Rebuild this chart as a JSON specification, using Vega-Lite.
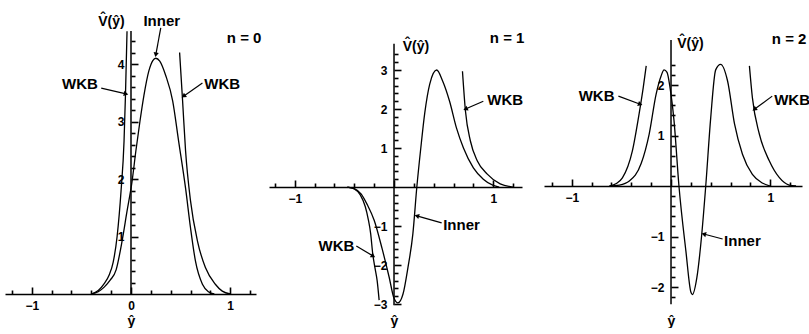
{
  "$schema": "https://vega.github.io/schema/vega-lite/v6.json",
  "background": "white",
  "padding": {"left": 5, "top": 13, "right": 0, "bottom": 0},
  "datasets": {
    "curves": [
      {"p":0,"s":"inner","x":-0.40,"y":0},{"p":0,"s":"inner","x":-0.33,"y":0.04},{"p":0,"s":"inner","x":-0.27,"y":0.12},{"p":0,"s":"inner","x":-0.21,"y":0.24},{"p":0,"s":"inner","x":-0.15,"y":0.42},{"p":0,"s":"inner","x":-0.09,"y":0.92},{"p":0,"s":"inner","x":-0.04,"y":1.44},{"p":0,"s":"inner","x":0.01,"y":1.95},{"p":0,"s":"inner","x":0.05,"y":2.5},{"p":0,"s":"inner","x":0.09,"y":3.0},{"p":0,"s":"inner","x":0.13,"y":3.45},{"p":0,"s":"inner","x":0.18,"y":3.88},{"p":0,"s":"inner","x":0.22,"y":4.06},{"p":0,"s":"inner","x":0.25,"y":4.1},{"p":0,"s":"inner","x":0.29,"y":4.05},{"p":0,"s":"inner","x":0.35,"y":3.8},{"p":0,"s":"inner","x":0.42,"y":3.36},{"p":0,"s":"inner","x":0.48,"y":2.66},{"p":0,"s":"inner","x":0.55,"y":1.84},{"p":0,"s":"inner","x":0.6,"y":1.15},{"p":0,"s":"inner","x":0.65,"y":0.57},{"p":0,"s":"inner","x":0.72,"y":0.17},{"p":0,"s":"inner","x":0.78,"y":0.04},{"p":0,"s":"inner","x":0.84,"y":0},
      {"p":0,"s":"wkbL","x":-0.40,"y":0},{"p":0,"s":"wkbL","x":-0.33,"y":0.06},{"p":0,"s":"wkbL","x":-0.27,"y":0.18},{"p":0,"s":"wkbL","x":-0.22,"y":0.33},{"p":0,"s":"wkbL","x":-0.18,"y":0.55},{"p":0,"s":"wkbL","x":-0.14,"y":1.0},{"p":0,"s":"wkbL","x":-0.1,"y":1.8},{"p":0,"s":"wkbL","x":-0.07,"y":2.66},{"p":0,"s":"wkbL","x":-0.055,"y":3.5},{"p":0,"s":"wkbL","x":-0.04,"y":4.57},
      {"p":0,"s":"wkbR","x":0.49,"y":4.2},{"p":0,"s":"wkbR","x":0.52,"y":3.36},{"p":0,"s":"wkbR","x":0.55,"y":2.49},{"p":0,"s":"wkbR","x":0.6,"y":1.62},{"p":0,"s":"wkbR","x":0.67,"y":0.92},{"p":0,"s":"wkbR","x":0.75,"y":0.46},{"p":0,"s":"wkbR","x":0.85,"y":0.17},{"p":0,"s":"wkbR","x":0.92,"y":0.05},{"p":0,"s":"wkbR","x":1.0,"y":0},
      {"p":1,"s":"inner","x":-0.47,"y":0},{"p":1,"s":"inner","x":-0.4,"y":-0.04},{"p":1,"s":"inner","x":-0.33,"y":-0.18},{"p":1,"s":"inner","x":-0.27,"y":-0.45},{"p":1,"s":"inner","x":-0.2,"y":-0.85},{"p":1,"s":"inner","x":-0.12,"y":-1.58},{"p":1,"s":"inner","x":-0.05,"y":-2.3},{"p":1,"s":"inner","x":0.0,"y":-2.85},{"p":1,"s":"inner","x":0.04,"y":-2.97},{"p":1,"s":"inner","x":0.09,"y":-2.75},{"p":1,"s":"inner","x":0.14,"y":-2.07},{"p":1,"s":"inner","x":0.19,"y":-1.2},{"p":1,"s":"inner","x":0.23,"y":0},{"p":1,"s":"inner","x":0.27,"y":1.0},{"p":1,"s":"inner","x":0.31,"y":1.9},{"p":1,"s":"inner","x":0.36,"y":2.64},{"p":1,"s":"inner","x":0.43,"y":3.0},{"p":1,"s":"inner","x":0.49,"y":2.72},{"p":1,"s":"inner","x":0.56,"y":2.2},{"p":1,"s":"inner","x":0.63,"y":1.51},{"p":1,"s":"inner","x":0.7,"y":1.0},{"p":1,"s":"inner","x":0.8,"y":0.49},{"p":1,"s":"inner","x":0.9,"y":0.2},{"p":1,"s":"inner","x":1.0,"y":0.04},{"p":1,"s":"inner","x":1.06,"y":0},
      {"p":1,"s":"wkbL","x":-0.47,"y":0},{"p":1,"s":"wkbL","x":-0.4,"y":-0.05},{"p":1,"s":"wkbL","x":-0.34,"y":-0.2},{"p":1,"s":"wkbL","x":-0.29,"y":-0.5},{"p":1,"s":"wkbL","x":-0.26,"y":-0.82},{"p":1,"s":"wkbL","x":-0.235,"y":-1.2},{"p":1,"s":"wkbL","x":-0.215,"y":-1.7},{"p":1,"s":"wkbL","x":-0.19,"y":-2.1},{"p":1,"s":"wkbL","x":-0.17,"y":-2.4},{"p":1,"s":"wkbL","x":-0.15,"y":-2.9},
      {"p":1,"s":"wkbR","x":0.69,"y":2.97},{"p":1,"s":"wkbR","x":0.72,"y":1.95},{"p":1,"s":"wkbR","x":0.77,"y":1.18},{"p":1,"s":"wkbR","x":0.84,"y":0.67},{"p":1,"s":"wkbR","x":0.94,"y":0.33},{"p":1,"s":"wkbR","x":1.07,"y":0.08},{"p":1,"s":"wkbR","x":1.2,"y":0},
      {"p":2,"s":"inner","x":-0.62,"y":0},{"p":2,"s":"inner","x":-0.52,"y":0.02},{"p":2,"s":"inner","x":-0.42,"y":0.1},{"p":2,"s":"inner","x":-0.3,"y":0.45},{"p":2,"s":"inner","x":-0.22,"y":1.03},{"p":2,"s":"inner","x":-0.15,"y":1.82},{"p":2,"s":"inner","x":-0.1,"y":2.18},{"p":2,"s":"inner","x":-0.07,"y":2.3},{"p":2,"s":"inner","x":-0.04,"y":2.25},{"p":2,"s":"inner","x":-0.01,"y":1.95},{"p":2,"s":"inner","x":0.03,"y":1.3},{"p":2,"s":"inner","x":0.08,"y":0},{"p":2,"s":"inner","x":0.15,"y":-1.29},{"p":2,"s":"inner","x":0.2,"y":-2.1},{"p":2,"s":"inner","x":0.215,"y":-2.15},{"p":2,"s":"inner","x":0.26,"y":-1.82},{"p":2,"s":"inner","x":0.31,"y":-0.95},{"p":2,"s":"inner","x":0.35,"y":0},{"p":2,"s":"inner","x":0.4,"y":1.35},{"p":2,"s":"inner","x":0.45,"y":2.3},{"p":2,"s":"inner","x":0.5,"y":2.41},{"p":2,"s":"inner","x":0.57,"y":2.08},{"p":2,"s":"inner","x":0.64,"y":1.23},{"p":2,"s":"inner","x":0.72,"y":0.63},{"p":2,"s":"inner","x":0.82,"y":0.23},{"p":2,"s":"inner","x":0.92,"y":0.06},{"p":2,"s":"inner","x":1.0,"y":0},
      {"p":2,"s":"wkbL","x":-0.62,"y":0},{"p":2,"s":"wkbL","x":-0.55,"y":0.05},{"p":2,"s":"wkbL","x":-0.49,"y":0.16},{"p":2,"s":"wkbL","x":-0.39,"y":0.69},{"p":2,"s":"wkbL","x":-0.32,"y":1.45},{"p":2,"s":"wkbL","x":-0.28,"y":1.95},{"p":2,"s":"wkbL","x":-0.25,"y":2.38},
      {"p":2,"s":"wkbR","x":0.79,"y":2.38},{"p":2,"s":"wkbR","x":0.82,"y":1.75},{"p":2,"s":"wkbR","x":0.89,"y":1.03},{"p":2,"s":"wkbR","x":0.99,"y":0.5},{"p":2,"s":"wkbR","x":1.09,"y":0.17},{"p":2,"s":"wkbR","x":1.19,"y":0.02},{"p":2,"s":"wkbR","x":1.26,"y":0}
    ],
    "yaxis": [
      {"p":0,"x":0,"y":0,"y2":4.574},
      {"p":1,"x":0,"y":-3.03,"y2":3.67},
      {"p":2,"x":0,"y":-2.34,"y2":2.89}
    ],
    "arrows": [
      {"p":0,"x":-0.3,"y":3.58,"x2":-0.05,"y2":3.48},
      {"p":0,"x":0.72,"y":3.67,"x2":0.53,"y2":3.44},
      {"p":0,"x":0.3,"y":4.63,"x2":0.25,"y2":4.16},
      {"p":1,"x":0.9,"y":2.2,"x2":0.72,"y2":2.0},
      {"p":1,"x":0.48,"y":-0.92,"x2":0.23,"y2":-0.74},
      {"p":1,"x":-0.38,"y":-1.51,"x2":-0.21,"y2":-1.77},
      {"p":2,"x":-0.53,"y":1.78,"x2":-0.31,"y2":1.62},
      {"p":2,"x":1.02,"y":1.78,"x2":0.84,"y2":1.52},
      {"p":2,"x":0.52,"y":-1.05,"x2":0.33,"y2":-0.95}
    ],
    "labels": [
      {"p":0,"t":"WKB","x":-0.515,"y":3.65},
      {"p":0,"t":"WKB","x":0.92,"y":3.65},
      {"p":0,"t":"Inner","x":0.31,"y":4.75},
      {"p":0,"t":"n = 0","x":1.14,"y":4.45},
      {"p":1,"t":"n = 1","x":1.14,"y":3.82},
      {"p":1,"t":"WKB","x":1.12,"y":2.23},
      {"p":1,"t":"Inner","x":0.68,"y":-0.97},
      {"p":1,"t":"WKB","x":-0.58,"y":-1.51},
      {"p":2,"t":"n = 2","x":1.19,"y":2.91},
      {"p":2,"t":"WKB","x":-0.75,"y":1.78},
      {"p":2,"t":"WKB","x":1.22,"y":1.7},
      {"p":2,"t":"Inner","x":0.72,"y":-1.09}
    ]
  },
  "spacing": 13,
  "bounds": "flush",
  "hconcat": [
    {
      "width": 251, "height": 263,
      "resolve": {"axis": {"x": "independent", "y": "independent"}},
      "layer": [
        {"data": {"name": "curves"}, "transform": [{"filter": "datum.p === 0"}],
         "mark": {"type": "line", "color": "black", "strokeWidth": 1.3, "interpolate": "monotone"},
         "encoding": {
           "x": {"field": "x", "type": "quantitative",
             "scale": {"domain": [-1.27, 1.26], "nice": false, "zero": false},
             "axis": {"values": [-1.2,-1,-0.8,-0.6,-0.4,-0.2,0,0.2,0.4,0.6,0.8,1,1.2], "offset": 0, "format": ".0f", "ticks": true, "zindex": 1,
               "tickSize": {"expr": "abs(datum.value % 1) < 0.001 ? -7 : -4"}, "tickColor": "#000000", "tickWidth": 1.6, "tickOpacity": 1,
               "labelExpr": "abs(datum.value % 1) < 0.001 ? datum.label : ''", "labelPadding": 13,
               "title": "ŷ", "titleX": 126, "titleY": 27}},
           "y": {"field": "y", "type": "quantitative",
             "scale": {"domain": [0, 4.574], "nice": false, "zero": false},
             "axis": {"values": [0.2,0.4,0.6,0.8,1,1.2,1.4,1.6,1.8,2,2.2,2.4,2.6,2.8,3,3.2,3.4,3.6,3.8,4,4.2,4.4], "offset": -126, "domain": false, "format": ".0f", "ticks": true, "zindex": 1,
               "tickSize": {"expr": "abs(datum.value % 1) < 0.001 ? -7 : -4"}, "tickColor": "#000000", "tickWidth": 1.6, "tickOpacity": 1,
               "labelExpr": "abs(datum.value % 1) < 0.001 ? datum.label : ''", "labelPadding": 14,
               "title": "V̂(ŷ)", "titleX": -20, "titleY": -10}},
           "detail": {"field": "s"}}},
        {"data": {"name": "yaxis"}, "transform": [{"filter": "datum.p === 0"}],
         "mark": {"type": "rule", "color": "black", "strokeWidth": 1.5},
         "encoding": {"x": {"field": "x", "type": "quantitative", "axis": null, "scale": {"domain": [-1.27, 1.26], "nice": false, "zero": false}},
                      "y": {"field": "y", "type": "quantitative", "axis": null, "scale": {"domain": [0, 4.574], "nice": false, "zero": false}},
                      "y2": {"field": "y2"}}},
        {"data": {"name": "arrows"}, "transform": [{"filter": "datum.p === 0"}],
         "mark": {"type": "rule", "color": "black", "strokeWidth": 1.2},
         "encoding": {"x": {"field": "x", "type": "quantitative", "axis": null, "scale": {"domain": [-1.27, 1.26], "nice": false, "zero": false}},
                      "y": {"field": "y", "type": "quantitative", "axis": null, "scale": {"domain": [0, 4.574], "nice": false, "zero": false}},
                      "x2": {"field": "x2"}, "y2": {"field": "y2"}}},
        {"data": {"name": "arrows"}, "transform": [{"filter": "datum.p === 0"},
           {"calculate": "atan2((datum.x2 - datum.x) * 99.2, (datum.y2 - datum.y) * 57.5) * 180 / PI", "as": "ang"}],
         "mark": {"type": "point", "shape": "triangle-up", "filled": true, "color": "black", "size": 28, "opacity": 1},
         "encoding": {"x": {"field": "x2", "type": "quantitative", "axis": null, "scale": {"domain": [-1.27, 1.26], "nice": false, "zero": false}},
                      "y": {"field": "y2", "type": "quantitative", "axis": null, "scale": {"domain": [0, 4.574], "nice": false, "zero": false}},
                      "angle": {"field": "ang", "type": "quantitative", "scale": null}}},
        {"data": {"name": "labels"}, "transform": [{"filter": "datum.p === 0"}],
         "mark": {"type": "text", "font": "Liberation Sans", "fontWeight": "bold", "fontSize": 15, "color": "black", "align": "center", "baseline": "middle"},
         "encoding": {"x": {"field": "x", "type": "quantitative", "axis": null, "scale": {"domain": [-1.27, 1.26], "nice": false, "zero": false}},
                      "y": {"field": "y", "type": "quantitative", "axis": null, "scale": {"domain": [0, 4.574], "nice": false, "zero": false}},
                      "text": {"field": "t"}}}
      ]
    },
    {
      "spacing": 22,
      "bounds": "flush",
      "hconcat": [
        {
          "width": 253, "height": 275,
          "resolve": {"axis": {"x": "independent", "y": "independent"}},
          "layer": [
            {"data": {"name": "curves"}, "transform": [{"filter": "datum.p === 1"}],
             "mark": {"type": "line", "color": "black", "strokeWidth": 1.3, "interpolate": "monotone"},
             "encoding": {
               "x": {"field": "x", "type": "quantitative",
                 "scale": {"domain": [-1.26, 1.29], "nice": false, "zero": false},
                 "axis": {"values": [-1.2,-1,-0.8,-0.6,-0.4,-0.2,0,0.2,0.4,0.6,0.8,1,1.2], "offset": -119, "format": ".0f", "ticks": true, "zindex": 1,
                   "tickSize": {"expr": "abs(datum.value % 1) < 0.001 ? -7 : -4"}, "tickColor": "#000000", "tickWidth": 1.6, "tickOpacity": 1,
                   "labelExpr": "abs(datum.value) === 1 ? datum.label : ''", "labelPadding": 13,
                   "title": "ŷ", "titleX": 125, "titleY": 134}},
               "y": {"field": "y", "type": "quantitative",
                 "scale": {"domain": [-3.05, 4.0], "nice": false, "zero": false},
                 "axis": {"values": [-3,-2.8,-2.6,-2.4,-2.2,-2,-1.8,-1.6,-1.4,-1.2,-1,-0.8,-0.6,-0.4,-0.2,0.2,0.4,0.6,0.8,1,1.2,1.4,1.6,1.8,2,2.2,2.4,2.6,2.8,3,3.2,3.4], "offset": -125, "domain": false, "format": ".0f", "ticks": true, "zindex": 1,
                   "tickSize": {"expr": "abs(datum.value % 1) < 0.001 ? -7 : -4"}, "tickColor": "#000000", "tickWidth": 1.6, "tickOpacity": 1,
                   "labelExpr": "abs(datum.value % 1) < 0.001 ? datum.label : ''", "labelPadding": 14,
                   "title": "V̂(ŷ)", "titleX": 21.5, "titleY": 15}},
               "detail": {"field": "s"}}},
            {"data": {"name": "yaxis"}, "transform": [{"filter": "datum.p === 1"}],
             "mark": {"type": "rule", "color": "black", "strokeWidth": 1.5},
             "encoding": {"x": {"field": "x", "type": "quantitative", "axis": null, "scale": {"domain": [-1.26, 1.29], "nice": false, "zero": false}},
                          "y": {"field": "y", "type": "quantitative", "axis": null, "scale": {"domain": [-3.05, 4.0], "nice": false, "zero": false}},
                          "y2": {"field": "y2"}}},
            {"data": {"name": "arrows"}, "transform": [{"filter": "datum.p === 1"}],
             "mark": {"type": "rule", "color": "black", "strokeWidth": 1.2},
             "encoding": {"x": {"field": "x", "type": "quantitative", "axis": null, "scale": {"domain": [-1.26, 1.29], "nice": false, "zero": false}},
                          "y": {"field": "y", "type": "quantitative", "axis": null, "scale": {"domain": [-3.05, 4.0], "nice": false, "zero": false}},
                          "x2": {"field": "x2"}, "y2": {"field": "y2"}}},
            {"data": {"name": "arrows"}, "transform": [{"filter": "datum.p === 1"},
               {"calculate": "atan2((datum.x2 - datum.x) * 99.2, (datum.y2 - datum.y) * 39) * 180 / PI", "as": "ang"}],
             "mark": {"type": "point", "shape": "triangle-up", "filled": true, "color": "black", "size": 28, "opacity": 1},
             "encoding": {"x": {"field": "x2", "type": "quantitative", "axis": null, "scale": {"domain": [-1.26, 1.29], "nice": false, "zero": false}},
                          "y": {"field": "y2", "type": "quantitative", "axis": null, "scale": {"domain": [-3.05, 4.0], "nice": false, "zero": false}},
                          "angle": {"field": "ang", "type": "quantitative", "scale": null}}},
            {"data": {"name": "labels"}, "transform": [{"filter": "datum.p === 1"}],
             "mark": {"type": "text", "font": "Liberation Sans", "fontWeight": "bold", "fontSize": 15, "color": "black", "align": "center", "baseline": "middle"},
             "encoding": {"x": {"field": "x", "type": "quantitative", "axis": null, "scale": {"domain": [-1.26, 1.29], "nice": false, "zero": false}},
                          "y": {"field": "y", "type": "quantitative", "axis": null, "scale": {"domain": [-3.05, 4.0], "nice": false, "zero": false}},
                          "text": {"field": "t"}}}
          ]
        },
        {
          "width": 258, "height": 275,
          "resolve": {"axis": {"x": "independent", "y": "independent"}},
          "layer": [
            {"data": {"name": "curves"}, "transform": [{"filter": "datum.p === 2"}],
             "mark": {"type": "line", "color": "black", "strokeWidth": 1.3, "interpolate": "monotone"},
             "encoding": {
               "x": {"field": "x", "type": "quantitative",
                 "scale": {"domain": [-1.28, 1.32], "nice": false, "zero": false},
                 "axis": {"values": [-1.2,-1,-0.8,-0.6,-0.4,-0.2,0,0.2,0.4,0.6,0.8,1,1.2], "offset": -120, "format": ".0f", "ticks": true, "zindex": 1,
                   "tickSize": {"expr": "abs(datum.value % 1) < 0.001 ? -7 : -4"}, "tickColor": "#000000", "tickWidth": 1.6, "tickOpacity": 1,
                   "labelExpr": "abs(datum.value) === 1 ? datum.label : ''", "labelPadding": 13,
                   "title": "ŷ", "titleX": 127, "titleY": 135}},
               "y": {"field": "y", "type": "quantitative",
                 "scale": {"domain": [-2.376, 3.07], "nice": false, "zero": false},
                 "axis": {"values": [-2.2,-2,-1.8,-1.6,-1.4,-1.2,-1,-0.8,-0.6,-0.4,-0.2,0.2,0.4,0.6,0.8,1,1.2,1.4,1.6,1.8,2,2.2,2.4], "offset": -127, "domain": false, "format": ".0f", "ticks": true, "zindex": 1,
                   "tickSize": {"expr": "abs(datum.value % 1) < 0.001 ? -7 : -4"}, "tickColor": "#000000", "tickWidth": 1.6, "tickOpacity": 1,
                   "labelExpr": "abs(datum.value % 1) < 0.001 ? datum.label : ''", "labelPadding": 14,
                   "title": "V̂(ŷ)", "titleX": 19, "titleY": 12}},
               "detail": {"field": "s"}}},
            {"data": {"name": "yaxis"}, "transform": [{"filter": "datum.p === 2"}],
             "mark": {"type": "rule", "color": "black", "strokeWidth": 1.5},
             "encoding": {"x": {"field": "x", "type": "quantitative", "axis": null, "scale": {"domain": [-1.28, 1.32], "nice": false, "zero": false}},
                          "y": {"field": "y", "type": "quantitative", "axis": null, "scale": {"domain": [-2.376, 3.07], "nice": false, "zero": false}},
                          "y2": {"field": "y2"}}},
            {"data": {"name": "arrows"}, "transform": [{"filter": "datum.p === 2"}],
             "mark": {"type": "rule", "color": "black", "strokeWidth": 1.2},
             "encoding": {"x": {"field": "x", "type": "quantitative", "axis": null, "scale": {"domain": [-1.28, 1.32], "nice": false, "zero": false}},
                          "y": {"field": "y", "type": "quantitative", "axis": null, "scale": {"domain": [-2.376, 3.07], "nice": false, "zero": false}},
                          "x2": {"field": "x2"}, "y2": {"field": "y2"}}},
            {"data": {"name": "arrows"}, "transform": [{"filter": "datum.p === 2"},
               {"calculate": "atan2((datum.x2 - datum.x) * 99.2, (datum.y2 - datum.y) * 50.5) * 180 / PI", "as": "ang"}],
             "mark": {"type": "point", "shape": "triangle-up", "filled": true, "color": "black", "size": 28, "opacity": 1},
             "encoding": {"x": {"field": "x2", "type": "quantitative", "axis": null, "scale": {"domain": [-1.28, 1.32], "nice": false, "zero": false}},
                          "y": {"field": "y2", "type": "quantitative", "axis": null, "scale": {"domain": [-2.376, 3.07], "nice": false, "zero": false}},
                          "angle": {"field": "ang", "type": "quantitative", "scale": null}}},
            {"data": {"name": "labels"}, "transform": [{"filter": "datum.p === 2"}],
             "mark": {"type": "text", "font": "Liberation Sans", "fontWeight": "bold", "fontSize": 15, "color": "black", "align": "center", "baseline": "middle"},
             "encoding": {"x": {"field": "x", "type": "quantitative", "axis": null, "scale": {"domain": [-1.28, 1.32], "nice": false, "zero": false}},
                          "y": {"field": "y", "type": "quantitative", "axis": null, "scale": {"domain": [-2.376, 3.07], "nice": false, "zero": false}},
                          "text": {"field": "t"}}}
          ]
        }
      ]
    }
  ],
  "config": {
    "view": {"stroke": null},
    "axis": {"grid": false, "domainColor": "black", "domainWidth": 1.5, "tickColor": "#000000", "tickWidth": 1.6,
      "labelColor": "black", "titleColor": "black", "labelFont": "Liberation Sans", "titleFont": "Liberation Sans",
      "labelFontWeight": "bold", "titleFontWeight": "bold", "labelFontSize": 12, "titleFontSize": 14,
      "labelOverlap": false, "labelFlush": false, "titleAngle": 0, "titleAlign": "center", "titleBaseline": "middle"}
  }
}
